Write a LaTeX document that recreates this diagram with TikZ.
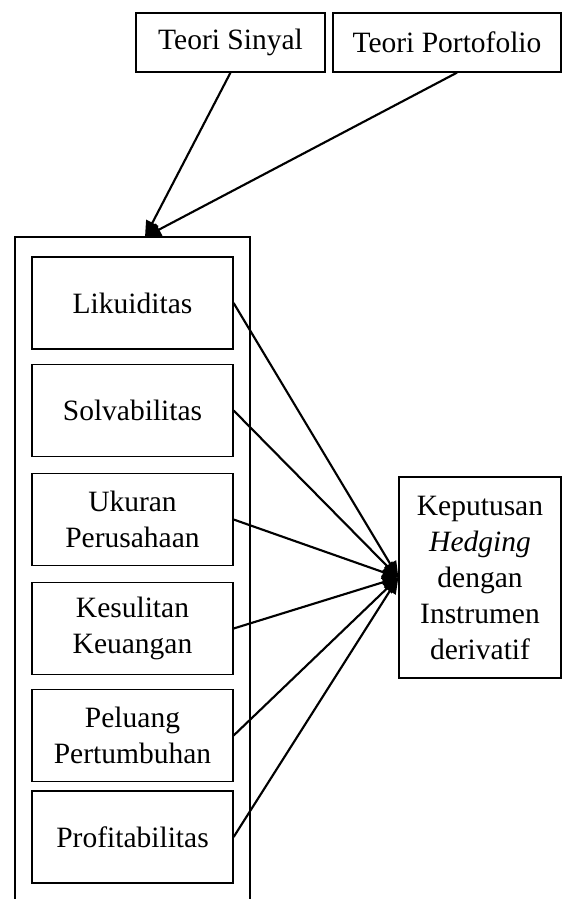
\documentclass[tikz,border=0pt]{standalone}
\usepackage{fontspec}
\setmainfont{Liberation Serif}
\usetikzlibrary{arrows.meta, positioning}

\tikzset{
  kotak/.style={draw, line width=0.5pt, rectangle, align=center, inner sep=1pt,
                font=\fontsize{11.8}{14.4}\selectfont},
  panah/.style={line width=0.85pt, -{Triangle[length=6.4pt, width=5.4pt]}}
}

\begin{document}
\begin{tikzpicture}[x=0.4pt, y=-0.4pt]
\useasboundingbox (0,0) rectangle (562,899);

% teori di atas
\node[kotak, minimum width=75.6pt, minimum height=23.6pt] (sinyal) at (230.5,42.5) {Teori Sinyal};
\node[kotak, minimum width=91.2pt, minimum height=23.6pt] (porto) at (447,42.5) {Teori Portofolio};

% kotak luar (variabel independen)
\draw[line width=0.5pt] (15,905) -- (15,237) -- (250,237) -- (250,905);
\coordinate (atas) at (145,237);

% variabel independen
\node[kotak, minimum width=80.4pt, minimum height=36.8pt] (likuid) at (132.5,303) {Likuiditas};
\node[kotak, minimum width=80.4pt, minimum height=36.8pt] (solva) at (132.5,410.5) {Solvabilitas};
\node[kotak, minimum width=80.4pt, minimum height=36.8pt] (ukuran) at (132.5,519.5) {Ukuran\\Perusahaan};
\node[kotak, minimum width=80.4pt, minimum height=36.8pt] (sulit) at (132.5,628.5) {Kesulitan\\Keuangan};
\node[kotak, minimum width=80.4pt, minimum height=36.8pt] (peluang) at (132.5,735.5) {Peluang\\Pertumbuhan};
\node[kotak, minimum width=80.4pt, minimum height=36.8pt] (profit) at (132.5,837) {Profitabilitas};

% variabel dependen
\node[kotak, minimum width=64.8pt, minimum height=80.4pt] (hedging) at (480,577.5)
  {Keputusan\\\textit{Hedging}\\dengan\\Instrumen\\derivatif};

% panah teori
\draw[panah] (sinyal.south) -- (atas);
\draw[panah] ([xshift=4pt]porto.south) -- (atas);

% panah ke keputusan hedging
\draw[panah] (likuid.east) -- (hedging.west);
\draw[panah] (solva.east) -- (hedging.west);
\draw[panah] (ukuran.east) -- (hedging.west);
\draw[panah] (sulit.east) -- (hedging.west);
\draw[panah] (peluang.east) -- (hedging.west);
\draw[panah] (profit.east) -- (hedging.west);
\end{tikzpicture}
\end{document}
